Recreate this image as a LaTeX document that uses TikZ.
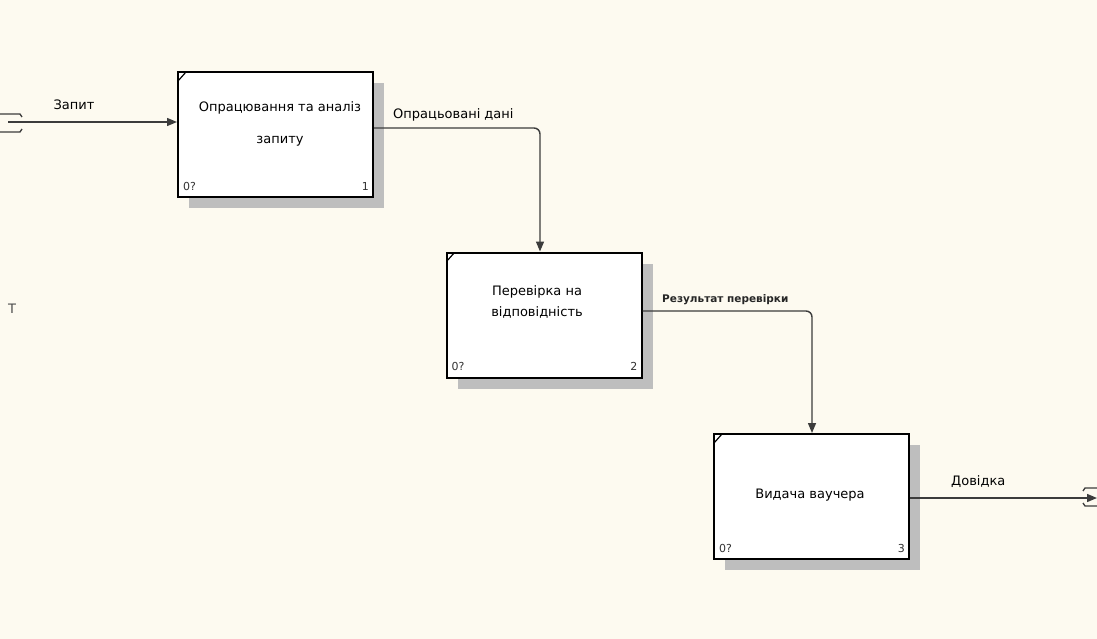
\documentclass[tikz,border=0pt]{standalone}
\usepackage{fontspec}
\setmainfont{DejaVu Sans}
\usetikzlibrary{arrows.meta,shadows,calc}
\definecolor{bgc}{RGB}{253,250,240}
\definecolor{linec}{RGB}{60,60,60}
\definecolor{shadowc}{RGB}{190,190,190}
\begin{document}
\begin{tikzpicture}[x=1pt,y=-1pt,
  box/.style={draw=black,line width=2pt,fill=white,minimum width=195pt,minimum height=125pt,inner sep=0pt,
    drop shadow={shadow xshift=11pt,shadow yshift=-11pt,fill=shadowc,opacity=1}},
  boxtext/.style={font=\fontsize{13}{15}\selectfont,align=center,inner sep=0pt},
  small/.style={font=\fontsize{11}{13}\selectfont,inner sep=0pt,text=black!80},
  lbl/.style={font=\fontsize{13}{15}\selectfont,inner sep=0pt},
  lbls/.style={font=\fontsize{10.5}{12}\selectfont\bfseries,inner sep=0pt,text=black!85},
  arr/.style={draw=linec,line width=1.4pt,-{Triangle[length=10pt,width=8pt]},rounded corners=6pt},
  tun/.style={draw=linec,line width=1.3pt},
  corner/.style={draw=black,line width=1.2pt}]
\fill[bgc] (0,0) rectangle (1097,639);
\useasboundingbox (0,0) rectangle (1097,639);

% boxes
\node[box] (b1) at (275.5,134.5) {};
\node[box] (b2) at (544,315) {};
\node[box] (b3) at (811.5,496.5) {};

\foreach \b/\n in {b1/1,b2/2,b3/3}{
  \draw[corner] ($(\b.north west)+(1pt,-10pt)$) -- ($(\b.north west)+(9pt,-1pt)$);
  \node[small,anchor=west] (\b z) at ($(\b.south west)+(6pt,12pt)$) {0?};
  \node[small,anchor=east] (\b n) at ($(\b.south east)+(-5pt,12pt)$) {\n};
}

% box texts
\node[boxtext] (t1a) at (280,108) {Опрацювання та аналіз};
\node[boxtext] (t1b) at (280,141) {запиту};
\node[boxtext] (t2a) at (537,292) {Перевірка на};
\node[boxtext] (t2b) at (537,312) {відповідність};
\node[boxtext] (t3) at (810,495) {Видача ваучера};

% coordinates
\coordinate (in1) at (8,122);
\coordinate (c2) at (540,128);
\coordinate (c3) at (812,311);
\coordinate (out4) at (1097,498);

% connectors
\draw[arr] (in1) -- (in1 -| b1.west);
\draw[arr] (c2 -| b1.east) -- (c2) -- (c2 |- b2.north);
\draw[arr] (c3 -| b2.east) -- (c3) -- (c3 |- b3.north);
\draw[arr] (out4 -| b3.east) -- (out4);

% tunnels
\draw[tun] (0,114) -- (20,114) -- (22,117);
\draw[tun] (0,132) -- (20,132) -- (22,129);
\draw[tun] (1097,488) -- (1085,488) -- (1083,491);
\draw[tun] (1097,506) -- (1085,506) -- (1083,503);

% labels
\node[lbl] (l1) at (74,105) {Запит};
\node[lbl,anchor=west] (l2) at (393,115) {Опрацьовані дані};
\node[lbls,anchor=west] (l3) at (662,300) {Результат перевірки};
\node[lbl,anchor=west] (l4) at (951,482) {Довідка};
\node[lbl,text=black!70] (lt) at (12,309) {T};
\end{tikzpicture}
\end{document}
